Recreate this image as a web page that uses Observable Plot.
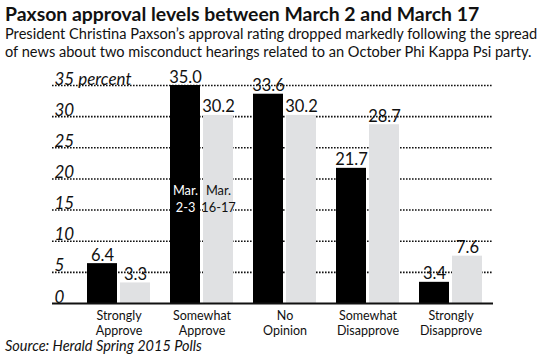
<!DOCTYPE html>
<html>
<head>
<meta charset="utf-8">
<script src="https://cdn.jsdelivr.net/npm/d3@7"></script>
<script src="https://cdn.jsdelivr.net/npm/@observablehq/plot@0.6"></script>
<style>
  html, body { margin: 0; padding: 0; background: #fff; }
  body { width: 558px; height: 356px; position: relative; overflow: hidden; font-family: Lato, "Open Sans", sans-serif; color: #111; }
  #title { position: absolute; left: 5px; top: 2px; font-weight: 700; font-size: 19.4px; white-space: nowrap; }
  #sub { position: absolute; left: 5px; top: 25px; font-size: 14.6px; line-height: 18px; white-space: nowrap; }
  #chart { position: absolute; left: 0; top: 62px; }
  #src { position: absolute; left: 5px; top: 337px; font-style: italic; font-size: 14.5px; white-space: nowrap; }
</style>
</head>
<body>
<div id="title">Paxson approval levels between March 2 and March 17</div>
<div id="sub">President Christina Paxson’s approval rating dropped markedly following the spread<br>of news about two misconduct hearings related to an October Phi Kappa Psi party.</div>
<div id="chart"></div>
<div id="src">Source: Herald Spring 2015 Polls</div>
<script>
const categories = ["Strongly\nApprove", "Somewhat\nApprove", "No\nOpinion", "Somewhat\nDisapprove", "Strongly\nDisapprove"];
const march2_3 = [6.4, 35.0, 33.6, 21.7, 3.4];
const march16_17 = [3.3, 30.2, 30.2, 28.7, 7.6];
const seriesNames = ["Mar.\n2-3", "Mar.\n16-17"];
const yTicks = [0, 5, 10, 15, 20, 25, 30, 35];
const yTickLabels = ["0", "5", "10", "15", "20", "25", "30", "35 percent"];
const seriesLabelAt = {category: "Somewhat\nApprove", value: 16.9};

const black = "#000000";
const gray = "#e0e1e3";

const rows1 = categories.map((c, i) => ({cat: c, v: march2_3[i]}));
const rows2 = categories.map((c, i) => ({cat: c, v: march16_17[i]}));
const tickRows = yTicks.map((t, i) => ({t, label: yTickLabels[i]}));

const half = 16.5;

const chart = Plot.plot({
  width: 558,
  height: 276,
  marginLeft: 52,
  marginRight: 65,
  marginTop: 23,
  marginBottom: 35,
  x: {domain: categories, range: [87, 482], paddingInner: 20 / 83, paddingOuter: 0, axis: null},
  y: {domain: [0, 35], axis: null},
  style: {fontFamily: "Lato, 'Open Sans', sans-serif", color: "#111"},
  marks: [
    Plot.ruleY(yTicks.filter(t => t > 0), {stroke: "#111", strokeWidth: 1.6, strokeDasharray: "1.6,1.4"}),
    Plot.text(tickRows, {y: "t", text: "label", frameAnchor: "left", textAnchor: "start", lineAnchor: "bottom", dx: 2, dy: -1, fontSize: 17, fontStyle: "italic", fill: "#111"}),
    Plot.barY(rows1, {x: "cat", y: "v", fill: black, insetRight: 33}),
    Plot.barY(rows2, {x: "cat", y: "v", fill: gray, insetLeft: 33}),
    Plot.ruleY([0], {stroke: "#111", strokeWidth: 2}),
    Plot.text(rows1, {x: "cat", y: "v", text: d => d.v.toFixed(1), dx: -half, dy: -3, lineAnchor: "bottom", fontSize: 16.5, fill: "#111"}),
    Plot.text(rows2, {x: "cat", y: "v", text: d => d.v.toFixed(1), dx: half, dy: -3, lineAnchor: "bottom", fontSize: 16.5, fill: "#111"}),
    Plot.text([seriesLabelAt], {x: "category", y: "value", text: [seriesNames[0]], dx: -half, fontSize: 12.8, lineHeight: 1.3, fill: "#fff"}),
    Plot.text([seriesLabelAt], {x: "category", y: "value", text: [seriesNames[1]], dx: half, fontSize: 12.8, lineHeight: 1.3, fill: "#111"}),
    Plot.text(categories, {x: d => d, y: 0, text: d => d, lineAnchor: "top", dy: 6, fontSize: 12.5, lineHeight: 1.2, fill: "#111"})
  ]
});
document.getElementById("chart").appendChild(chart);
</script>
</body>
</html>
